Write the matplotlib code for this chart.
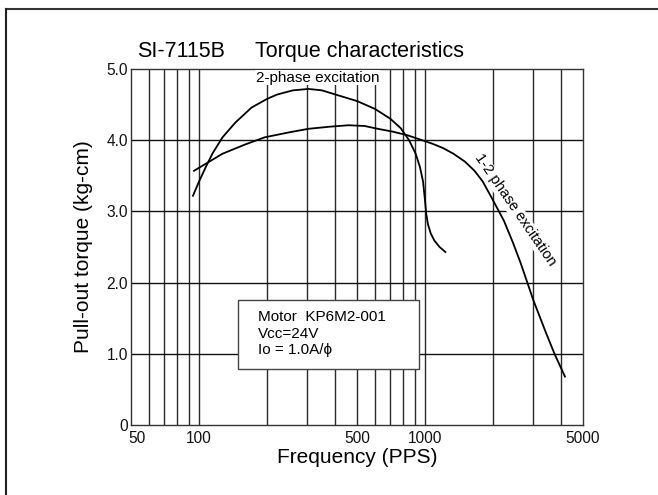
import matplotlib
matplotlib.use("Agg")
import matplotlib.pyplot as plt
import matplotlib.transforms as mtransforms
from matplotlib.lines import Line2D
from matplotlib.patches import Rectangle

plt.rcParams['font.family'] = ['Liberation Sans', 'DejaVu Sans']

# 2-phase excitation curve (frequency PPS, torque kg-cm)
freq_2ph = [94, 100, 107, 115, 127, 145, 171, 200, 221, 260, 305, 350, 403,
            500, 600, 703, 780, 850, 909, 950, 980, 1000, 1012, 1030, 1060,
            1100, 1160, 1230]
torque_2ph = [3.22, 3.42, 3.62, 3.82, 4.04, 4.25, 4.46, 4.58, 4.64, 4.70, 4.72,
              4.70, 4.64, 4.55, 4.44, 4.30, 4.17, 4.00, 3.81, 3.62, 3.42, 3.15,
              2.97, 2.82, 2.69, 2.59, 2.50, 2.43]

# 1-2 phase excitation curve
freq_12ph = [95, 127, 160, 195, 250, 305, 380, 458, 540, 618, 720, 834, 950,
             1079, 1200, 1336, 1500, 1656, 1800, 1965, 2233, 2450, 2652, 3017,
             3434, 3740, 4160]
torque_12ph = [3.57, 3.81, 3.94, 4.04, 4.11, 4.16, 4.19, 4.21, 4.20, 4.16, 4.12,
               4.07, 4.01, 3.95, 3.89, 3.81, 3.70, 3.57, 3.42, 3.20, 2.87, 2.56,
               2.27, 1.75, 1.29, 1.00, 0.68]

x_grid = [60, 70, 80, 90, 100, 200, 300, 400, 500, 600, 700, 800, 900, 1000,
          2000, 3000, 4000]
y_grid = [1, 2, 3, 4]
x_ticks = [50, 100, 500, 1000, 5000]
y_ticks = [0, 1, 2, 3, 4, 5]
y_ticklabels = ['0', '1.0', '2.0', '3.0', '4.0', '5.0']

fig = plt.figure(figsize=(6.58, 4.95), dpi=100)
ax = fig.add_axes([131 / 658, 1 - 425 / 495, 452 / 658, 356 / 495])

ax.set_xscale('log')
ax.set_xlim(50, 5000)
ax.set_ylim(0, 5)

for xv in x_grid:
    ax.axvline(xv, color='#2a2a2a', lw=1.0, zorder=1)
for yv in y_grid:
    ax.axhline(yv, color='#111111', lw=1.0, zorder=1)

ax.plot(freq_2ph, torque_2ph, color='black', lw=1.3, zorder=3)
ax.plot(freq_12ph, torque_12ph, color='black', lw=1.3, zorder=3)

ax.set_xticks(x_ticks)
ax.set_xticklabels([str(v) for v in x_ticks])
ax.minorticks_off()
ax.set_yticks(y_ticks)
ax.set_yticklabels(y_ticklabels)
ax.tick_params(length=0, labelsize=11.2, colors='#111111')
ax.tick_params(axis='x', pad=4)
ax.tick_params(axis='y', pad=2)

# the "50" label sits a little right of the corner in the original
shift = mtransforms.ScaledTranslation(4 / 72, 0, fig.dpi_scale_trans)
lbl50 = ax.get_xticklabels()[0]
lbl50.set_transform(lbl50.get_transform() + shift)

for s in ax.spines.values():
    s.set_color('#333333')
    s.set_linewidth(1.0)

ax.set_xlabel('Frequency (PPS)', fontsize=15, labelpad=2)
ax.set_ylabel('Pull-out torque (kg-cm)', fontsize=15, labelpad=10)

ax.text(336, 4.88, '2-phase excitation', fontsize=11, ha='center',
        va='center', zorder=4,
        bbox=dict(fc='white', ec='none', pad=0.5))
ax.text(2500, 3.02, '1-2 phase excitation', fontsize=10.6, ha='center',
        va='center', rotation=-55.5, rotation_mode='anchor', zorder=4,
        bbox=dict(fc='white', ec='none', pad=0.5))

# motor info box
ax.add_patch(Rectangle((0.237, 0.157), 0.400, 0.194, transform=ax.transAxes,
                       fc='white', ec='#444444', lw=1.0, zorder=5))
info = ['Motor  KP6M2-001', 'V\u1d04\u1d04=24V', 'I\u1d0f = 1.0A/\u03d5']
for i, line in enumerate(info):
    ax.text(0.281, 0.304 - i * 0.047, line, transform=ax.transAxes,
            fontsize=11, va='center', ha='left', zorder=6)

# titles
fig.text(137 / 658, 1 - 57 / 495, 'SI-7115B', fontsize=15.5, va='baseline')
fig.text(255 / 658, 1 - 57 / 495, 'Torque characteristics', fontsize=15.5,
         va='baseline')

# outer frame (top and left)
fig.add_artist(Line2D([5.5 / 658, 1], [1 - 8.5 / 495, 1 - 8.5 / 495],
                      transform=fig.transFigure, color='#333333', lw=1.5))
fig.add_artist(Line2D([5.5 / 658, 5.5 / 658], [0, 1 - 8.5 / 495],
                      transform=fig.transFigure, color='#222222', lw=1.5))

fig.savefig('out.png', dpi=100)
